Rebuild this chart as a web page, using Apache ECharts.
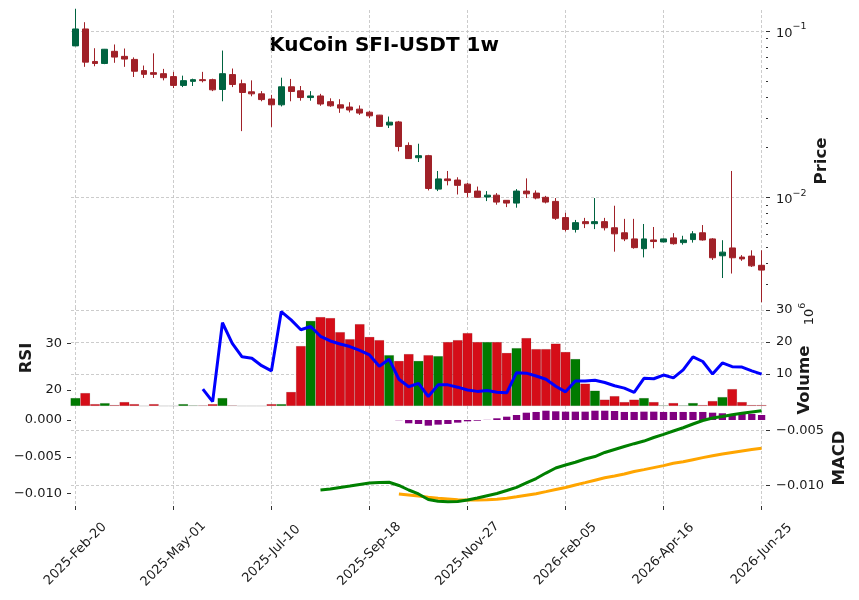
<!DOCTYPE html>
<html>
<head>
<meta charset="utf-8">
<title>KuCoin SFI-USDT 1w</title>
<script src="https://cdn.jsdelivr.net/npm/echarts@6/dist/echarts.min.js"></script>
<style>
html, body { margin: 0; padding: 0; background: #fff; }
#main { width: 859px; height: 600px; }
</style>
</head>
<body>
<div id="main"></div>
<script>
var dates = ['2025-02-20','2025-02-27','2025-03-06','2025-03-13','2025-03-20','2025-03-27','2025-04-03','2025-04-10','2025-04-17','2025-04-24',
	'2025-05-01','2025-05-08','2025-05-15','2025-05-22','2025-05-29','2025-06-05','2025-06-12','2025-06-19','2025-06-26','2025-07-03',
	'2025-07-10','2025-07-17','2025-07-24','2025-07-31','2025-08-07','2025-08-14','2025-08-21','2025-08-28','2025-09-04','2025-09-11',
	'2025-09-18','2025-09-25','2025-10-02','2025-10-09','2025-10-16','2025-10-23','2025-10-30','2025-11-06','2025-11-13','2025-11-20',
	'2025-11-27','2025-12-04','2025-12-11','2025-12-18','2025-12-25','2026-01-01','2026-01-08','2026-01-15','2026-01-22','2026-01-29',
	'2026-02-05','2026-02-12','2026-02-19','2026-02-26','2026-03-05','2026-03-12','2026-03-19','2026-03-26','2026-04-02','2026-04-09',
	'2026-04-16','2026-04-23','2026-04-30','2026-05-07','2026-05-14','2026-05-21','2026-05-28','2026-06-04','2026-06-11','2026-06-18',
	'2026-06-25'];

var opens = [0.0814,0.1029,0.0656,0.0638,0.0755,0.0704,0.0675,0.0578,0.0562,0.0554,
	0.0532,0.0471,0.0498,0.0510,0.0510,0.0445,0.0547,0.0482,0.0431,0.0419,
	0.0390,0.0360,0.0462,0.0437,0.0398,0.0407,0.0376,0.0360,0.0349,0.0339,
	0.0325,0.0312,0.0272,0.0284,0.0205,0.0173,0.0178,0.0112,0.0129,0.0127,
	0.0120,0.0109,0.01004,0.0103,0.00959,0.00923,0.0109,0.0106,0.0100,0.00945,
	0.00755,0.00641,0.00714,0.00694,0.00714,0.00656,0.00612,0.00562,0.00491,0.00554,
	0.00539,0.00570,0.00534,0.00557,0.00612,0.00562,0.00445,0.00496,0.00437,0.00443,
	0.00390];
var closes = [0.1029,0.0650,0.0638,0.0777,0.0697,0.0678,0.0573,0.0549,0.0549,0.0524,
	0.0471,0.0503,0.0510,0.0503,0.0443,0.0554,0.0477,0.0427,0.0419,0.0387,
	0.0360,0.0462,0.0433,0.0398,0.0407,0.0364,0.0355,0.0344,0.0335,0.0321,
	0.0309,0.0267,0.0283,0.0202,0.0171,0.0178,0.0113,0.0129,0.0126,0.0118,
	0.0107,0.0100,0.0103,0.00936,0.00923,0.0109,0.0105,0.0099,0.00936,0.00748,
	0.00641,0.00704,0.00694,0.00714,0.00656,0.00603,0.00562,0.00498,0.00562,0.00542,
	0.00562,0.00526,0.00554,0.00603,0.00554,0.00433,0.00468,0.00433,0.00426,0.00387,
	0.00365];
var lows = [0.0810,0.0609,0.0614,0.0632,0.0644,0.0609,0.0529,0.0522,0.0522,0.0505,
	0.0454,0.0460,0.0467,0.0491,0.0435,0.0378,0.0460,0.0250,0.0405,0.0378,
	0.0265,0.0352,0.0378,0.0381,0.0381,0.0355,0.0350,0.0322,0.0324,0.0313,
	0.0299,0.0265,0.0261,0.0189,0.0170,0.0163,0.0110,0.0109,0.0118,0.0104,
	0.0100,0.00996,0.00949,0.00903,0.00873,0.00866,0.0099,0.00972,0.00919,0.00731,
	0.00623,0.00614,0.00653,0.00644,0.00632,0.00471,0.00545,0.00491,0.00435,0.00494,
	0.00536,0.00519,0.00519,0.00534,0.00549,0.00420,0.00327,0.00348,0.00415,0.00381,
	0.00234];
var highs = [0.1361,0.1130,0.0788,0.0780,0.0830,0.0785,0.0694,0.0620,0.0734,0.0592,
	0.0568,0.0539,0.0517,0.0568,0.0517,0.0763,0.0595,0.0510,0.0505,0.0435,
	0.0413,0.0524,0.0515,0.0467,0.0435,0.0419,0.0394,0.0389,0.0373,0.0357,
	0.0330,0.0313,0.0306,0.0288,0.0214,0.0210,0.0180,0.0144,0.0144,0.0132,
	0.0122,0.0116,0.0109,0.0106,0.00962,0.0112,0.0130,0.0110,0.0102,0.0099,
	0.00807,0.00731,0.00752,0.0099,0.00752,0.00890,0.00742,0.00742,0.00691,0.00663,
	0.00565,0.00609,0.00587,0.00626,0.00681,0.00568,0.00552,0.0144,0.00449,0.00480,
	0.00480];
var volumes = [2500000,4060000,600000,900000,300000,1250000,600000,30000,600000,30000,
	30000,600000,200000,200000,600000,2500000,200000,30000,30000,30000,
	600000,600000,4400000,18750000,26600000,27800000,27500000,23100000,20900000,25600000,
	21600000,20600000,15900000,14100000,16250000,14100000,15900000,15600000,20000000,20600000,
	22800000,20000000,20000000,20000000,16600000,18100000,21250000,17800000,17800000,19500000,
	16900000,14700000,7000000,4800000,2000000,3100000,1250000,2000000,2500000,1250000,
	200000,940000,200000,940000,300000,1560000,2800000,5300000,1250000,300000,
	300000];
var rsi = [null,null,null,null,null,null,null,null,null,null,
	null,null,null,20.2,17.5,34.4,30.0,27.1,26.8,25.2,
	24.1,36.8,35.0,32.9,33.6,31.5,30.5,29.85,29.3,28.5,
	27.5,25.1,26.6,22.3,20.7,21.4,18.6,21.1,21.1,20.6,
	20.0,19.7,19.9,19.5,19.4,23.7,23.6,23.0,22.3,20.8,
	19.6,21.9,21.9,22.1,21.6,20.9,20.4,19.5,22.5,22.4,
	23.2,22.6,24.3,27.1,26.1,23.4,25.8,25.0,24.9,24.1,
	23.4];
var macdHist = [null,null,null,null,null,null,null,null,null,null,
	null,null,null,null,null,null,null,null,null,null,
	null,null,null,null,null,null,null,null,null,null,
	null,null,null,-0.00003,-0.00045,-0.00054,-0.00077,-0.00063,-0.00054,-0.00036,
	-0.00018,-0.0001,0.00002,0.00023,0.00045,0.00068,0.00099,0.00109,0.00126,0.00118,
	0.00113,0.00113,0.00113,0.00126,0.00126,0.00122,0.00109,0.00109,0.00113,0.00113,
	0.00109,0.00109,0.00109,0.00109,0.00109,0.00099,0.00091,0.00082,0.00082,0.00082,
	0.00068];
var macdSignal = [null,null,null,null,null,null,null,null,null,null,
	null,null,null,null,null,null,null,null,null,null,
	null,null,null,null,null,null,null,null,null,null,
	null,null,null,-0.01005,-0.01019,-0.01033,-0.01050,-0.01064,-0.01073,-0.01082,
	-0.01087,-0.01087,-0.01084,-0.01077,-0.01063,-0.01043,-0.01022,-0.01001,-0.00973,-0.00944,
	-0.00917,-0.00883,-0.00851,-0.00818,-0.00785,-0.00761,-0.00734,-0.00700,-0.00674,-0.00647,
	-0.00620,-0.00588,-0.00567,-0.00539,-0.00511,-0.00485,-0.00463,-0.00442,-0.00421,-0.00402,
	-0.00385];
var macdLine = [null,null,null,null,null,null,null,null,null,null,
	null,null,null,null,null,null,null,null,null,null,
	null,null,null,null,null,-0.01039,-0.01030,-0.01016,-0.01003,-0.00989,
	-0.00975,-0.00971,-0.00969,-0.00998,-0.01039,-0.01075,-0.01125,-0.01142,-0.01146,-0.01144,
	-0.01130,-0.01112,-0.01091,-0.01071,-0.01044,-0.01015,-0.00975,-0.00935,-0.00885,-0.00839,
	-0.00812,-0.00787,-0.00757,-0.00735,-0.00698,-0.00671,-0.00644,-0.00618,-0.00594,-0.00562,
	-0.00533,-0.00503,-0.00473,-0.00439,-0.00407,-0.00385,-0.00371,-0.00355,-0.00342,-0.00330,
	-0.00318];

var xTicks = [0,10,20,30,40,50,60,70];
var priceTicks = [0.01,0.1];
var priceMinor = [0.003,0.004,0.005,0.006,0.007,0.008,0.009,0.02,0.03,0.04,0.05,0.06,0.07,0.08,0.09];
var rsiTicks = [20,30];
var volTicks = [10000000,20000000,30000000];
var histTicks = [-0.01,-0.005,0];
var macdTicks = [-0.01,-0.005];

var monthNames = ['Jan','Feb','Mar','Apr','May','Jun','Jul','Aug','Sep','Oct','Nov','Dec'];
function fmtDate(s){
	var p = s.split('-');
	return p[0] + '-' + monthNames[parseInt(p[1],10) - 1] + '-' + p[2];
}
function toPairs(arr){
	var out = [];
	for(var i = 0; i < arr.length; i++){
		if(arr[i] !== null) out.push([i, arr[i]]);
	}
	return out;
}
function minusFmt(v){
	return (v < -1e-9 ? '\u2212' : '') + Math.abs(v).toFixed(3);
}

var candleData = [];
var volData = [];
for(var i = 0; i < dates.length; i++){
	candleData.push([i, opens[i], closes[i], lows[i], highs[i]]);
	var up = closes[i] >= opens[i];
	volData.push({value: [i, volumes[i]], itemStyle: {color: up ? '#007a00' : '#d50d18'}});
}

var FONT = 'DejaVu Sans';
var gridLine = {show: true, lineStyle: {color: '#bfbfbf', width: 0.8, type: [3, 2]}};
var tickLine = {color: '#333', width: 1};
var noLine = {show: false, onZero: false};
var txtColor = '#1a1a1a';
var priceMin = 0.0021894, priceMax = 0.13379;

var xAxes = [];
for(var g = 0; g < 4; g++){
	xAxes.push({
		type: 'value', gridIndex: g, min: -0.45, max: 70.45, show: g < 3,
		axisLine: noLine,
		axisTick: {show: g === 2, length: 4, customValues: xTicks, lineStyle: tickLine},
		axisLabel: {
			show: g === 2, customValues: xTicks, rotate: 45, align: 'center', verticalAlign: 'middle',
			margin: 48, color: txtColor, fontSize: 13, fontFamily: FONT,
			formatter: function(v){ return fmtDate(dates[Math.round(v)]); }
		},
		splitLine: gridLine
	});
}

var chart = echarts.init(document.getElementById('main'));
var option = {
	backgroundColor: '#ffffff',
	animation: false,
	grid: [
		{left: 71, right: 93, top: 10, height: 297, outerBoundsMode: 'none'},
		{left: 71, right: 93, top: 307, height: 99, outerBoundsMode: 'none'},
		{left: 71, right: 93, top: 406, height: 100, outerBoundsMode: 'none'},
		// same box as the price panel, only carries the minor log ticks
		{left: 71, right: 93, top: 10, height: 297, outerBoundsMode: 'none'}
	],
	xAxis: xAxes,
	yAxis: [
		{
			gridIndex: 0, type: 'log', logBase: 10, position: 'right', min: priceMin, max: priceMax,
			axisLine: noLine,
			axisTick: {length: 4, customValues: priceTicks, lineStyle: tickLine},
			axisLabel: {
				customValues: priceTicks, margin: 10, color: txtColor, fontFamily: FONT,
				formatter: function(v){
					var e = Math.round(Math.log(v) / Math.LN10);
					return '{m|10}{s|' + (e < 0 ? '\u2212' : '') + Math.abs(e) + '}';
				},
				rich: {
					m: {fontSize: 13, fontFamily: FONT, color: txtColor, lineHeight: 18, verticalAlign: 'bottom'},
					s: {fontSize: 9.5, fontFamily: FONT, color: txtColor, lineHeight: 9, verticalAlign: 'top'}
				}
			},
			splitLine: gridLine
		},
		{
			gridIndex: 3, type: 'log', logBase: 10, position: 'right', min: priceMin, max: priceMax,
			axisLine: noLine,
			axisTick: {length: 2, customValues: priceMinor, lineStyle: tickLine},
			axisLabel: {show: false},
			splitLine: {show: false}
		},
		{
			gridIndex: 1, type: 'value', position: 'left', min: 16.57, max: 37.77,
			axisLine: noLine,
			axisTick: {length: 4, customValues: rsiTicks, lineStyle: tickLine},
			axisLabel: {customValues: rsiTicks, margin: 9, color: txtColor, fontSize: 13, fontFamily: FONT},
			splitLine: {show: false}
		},
		{
			gridIndex: 1, type: 'value', position: 'right', min: 0, max: 30940000,
			axisLine: noLine,
			axisTick: {length: 4, customValues: volTicks, lineStyle: tickLine},
			axisLabel: {
				customValues: volTicks, margin: 10, color: txtColor, fontSize: 13, fontFamily: FONT,
				formatter: function(v){ return Math.round(v / 1e6); }
			},
			splitLine: gridLine
		},
		{
			gridIndex: 2, type: 'value', position: 'left', min: -0.01168, max: 0.0019,
			axisLine: noLine,
			axisTick: {length: 4, customValues: histTicks, lineStyle: tickLine},
			axisLabel: {customValues: histTicks, margin: 9, color: txtColor, fontSize: 13, fontFamily: FONT, formatter: minusFmt},
			splitLine: {show: false}
		},
		{
			gridIndex: 2, type: 'value', position: 'right', min: -0.011845, max: -0.002755,
			axisLine: noLine,
			axisTick: {length: 4, customValues: macdTicks, lineStyle: tickLine},
			axisLabel: {customValues: macdTicks, margin: 10, color: txtColor, fontSize: 13, fontFamily: FONT, formatter: minusFmt},
			splitLine: gridLine
		}
	],
	series: [
		{
			type: 'candlestick', xAxisIndex: 0, yAxisIndex: 0,
			data: candleData, encode: {x: 0, y: [1, 2, 3, 4]},
			barWidth: 6.4,
			itemStyle: {color: '#006340', color0: '#a02128', borderColor: '#006340', borderColor0: '#a02128', borderWidth: 1}
		},
		{
			type: 'bar', xAxisIndex: 1, yAxisIndex: 3,
			data: volData, barWidth: 9.8,
			itemStyle: {borderColor: 'rgba(0,0,0,0.18)', borderWidth: 0.5}
		},
		{
			type: 'line', xAxisIndex: 1, yAxisIndex: 2,
			data: toPairs(rsi), showSymbol: false, z: 5,
			lineStyle: {color: '#0000ff', width: 3}
		},
		{
			type: 'bar', xAxisIndex: 2, yAxisIndex: 4,
			data: toPairs(macdHist), barWidth: 7.3,
			itemStyle: {color: '#800080'}
		},
		{
			type: 'line', xAxisIndex: 2, yAxisIndex: 4,
			data: toPairs(macdSignal), showSymbol: false, z: 5,
			lineStyle: {color: '#ffa500', width: 3}
		},
		{
			type: 'line', xAxisIndex: 2, yAxisIndex: 5,
			data: toPairs(macdLine), showSymbol: false, z: 6,
			lineStyle: {color: '#008000', width: 3}
		}
	],
	graphic: [
		{type: 'text', x: 384, y: 46, style: {text: 'KuCoin SFI-USDT 1w', align: 'center', verticalAlign: 'middle', fontSize: 20, fontWeight: 'bold', fontFamily: FONT, fill: '#000'}},
		{type: 'text', x: 822, y: 161, rotation: Math.PI / 2, style: {text: 'Price', align: 'center', verticalAlign: 'middle', fontSize: 16.5, fontWeight: 'bold', fontFamily: FONT, fill: txtColor}},
		{type: 'text', x: 805, y: 380, rotation: Math.PI / 2, style: {text: 'Volume', align: 'center', verticalAlign: 'middle', fontSize: 16.5, fontWeight: 'bold', fontFamily: FONT, fill: txtColor}},
		{type: 'text', x: 807, y: 314, rotation: Math.PI / 2, style: {
			text: '{m|10}{s|6}', align: 'center', verticalAlign: 'middle',
			rich: {
				m: {fontSize: 13, fontFamily: FONT, fill: txtColor, lineHeight: 18, verticalAlign: 'bottom'},
				s: {fontSize: 9.5, fontFamily: FONT, fill: txtColor, lineHeight: 9, verticalAlign: 'top'}
			}
		}},
		{type: 'text', x: 27, y: 358, rotation: Math.PI / 2, style: {text: 'RSI', align: 'center', verticalAlign: 'middle', fontSize: 16.5, fontWeight: 'bold', fontFamily: FONT, fill: txtColor}},
		{type: 'text', x: 840, y: 458, rotation: Math.PI / 2, style: {text: 'MACD', align: 'center', verticalAlign: 'middle', fontSize: 16.5, fontWeight: 'bold', fontFamily: FONT, fill: txtColor}}
	]
};
chart.setOption(option);
</script>
</body>
</html>
